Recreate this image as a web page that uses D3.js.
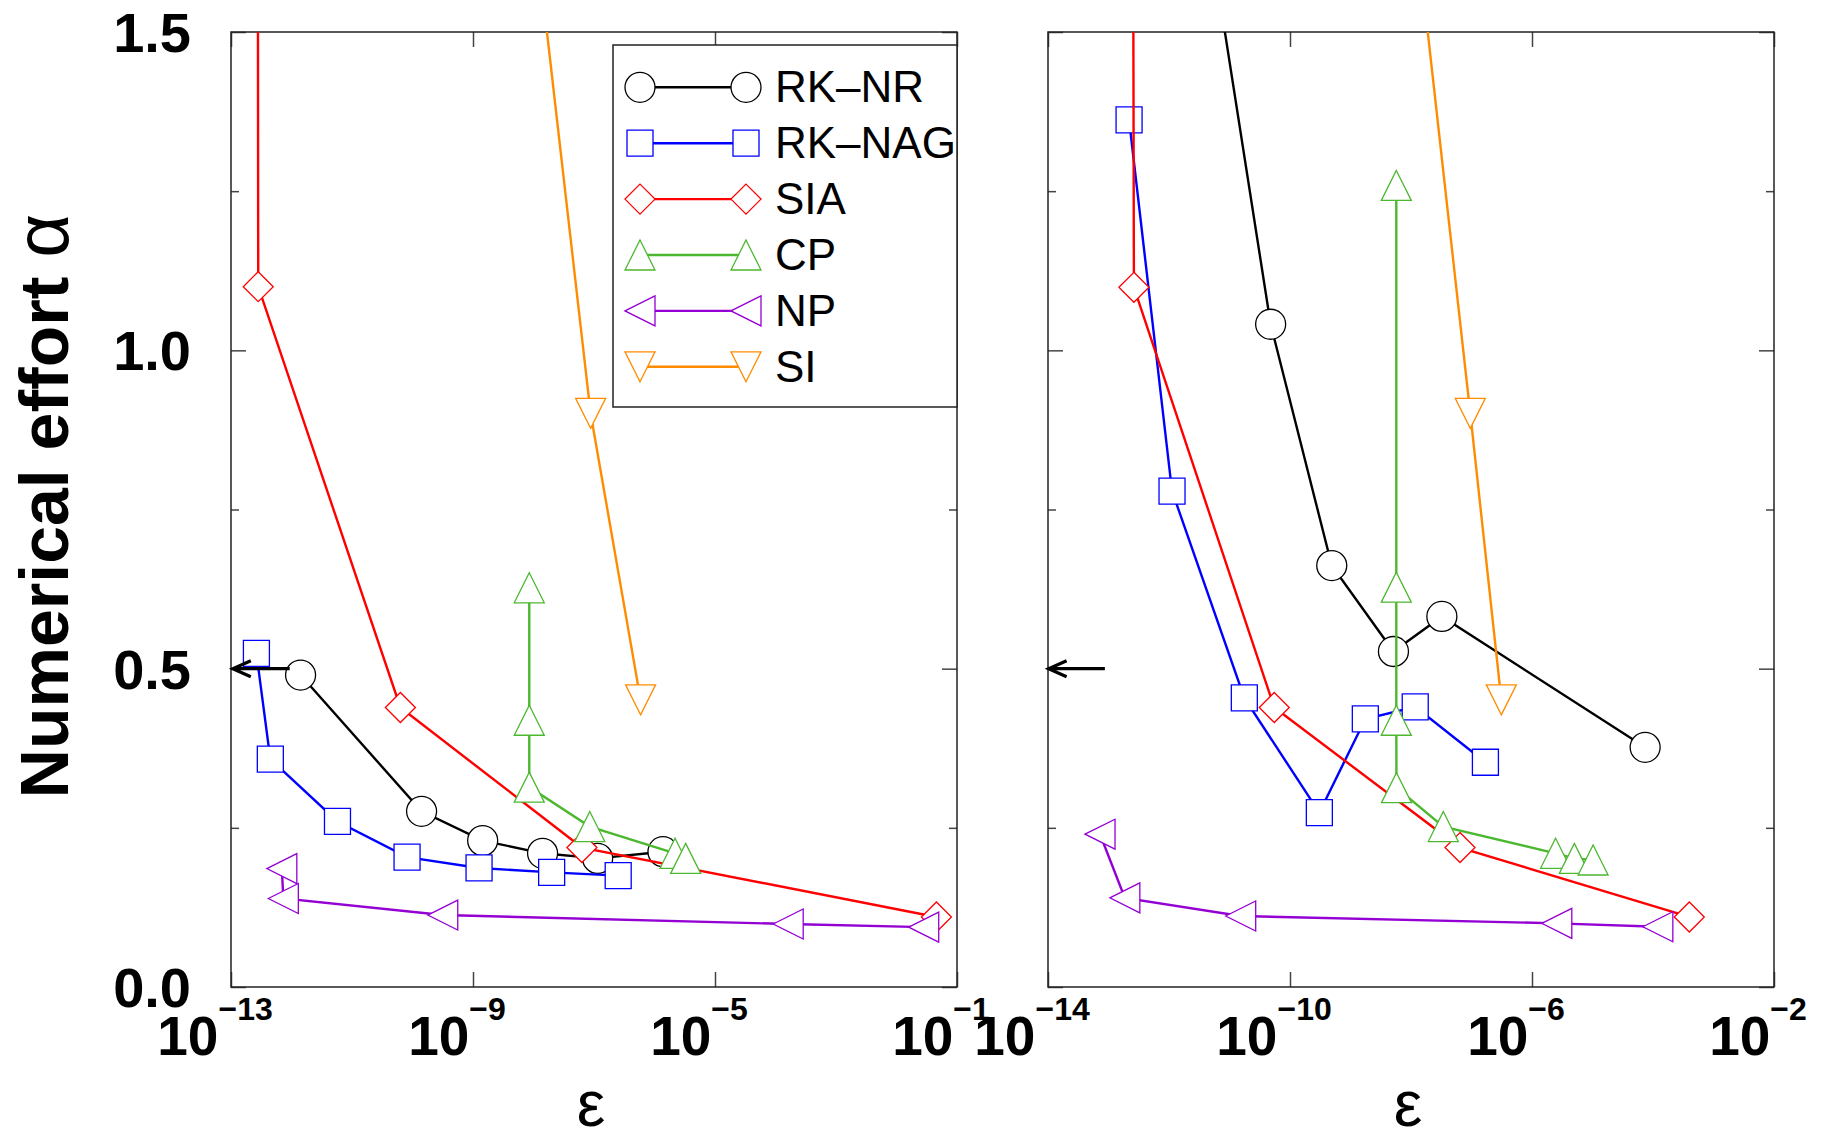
<!DOCTYPE html>
<html>
<head>
<meta charset="utf-8">
<script src="https://cdn.jsdelivr.net/npm/d3@7"></script>
<style>
body { margin: 0; background: #fff; }
text { font-family: "Liberation Sans", Arial, sans-serif; }
</style>
</head>
<body>
<script>
// series (same order in both panels and in the legend)
var seriesNames = ["RK\u2013NR", "RK\u2013NAG", "SIA", "CP", "NP", "SI"];
var seriesColors = ["#000000", "#0000ff", "#ff0000", "#4cb830", "#9400d3", "#ff8c00"];
var seriesSymbols = ["circle", "square", "diamond", "triUp", "triLeft", "triDown"];

// values are log10(eps) and alpha
// left panel
var leftNrExp = [-11.85, -9.85, -8.84, -7.85, -6.94, -5.86];
var leftNrAlpha = [0.49, 0.276, 0.23, 0.21, 0.202, 0.2125];
var leftNagExp = [-12.58, -12.35, -11.24, -10.09, -8.9, -7.7, -6.6];
var leftNagAlpha = [0.524, 0.358, 0.26, 0.204, 0.187, 0.18, 0.175];
var leftSiaExp = [-12.56, -12.55, -10.2, -7.2, -1.34];
var leftSiaAlpha = [2.0, 1.1, 0.439, 0.219, 0.11];
var leftCpExp = [-8.07, -8.07, -8.07, -7.07, -5.66, -5.485];
var leftCpAlpha = [0.627, 0.419, 0.314, 0.252, 0.21, 0.202];
var leftNpExp = [-12.16, -12.135, -9.5, -3.79, -1.55];
var leftNpAlpha = [0.186, 0.139, 0.113, 0.099, 0.094];
var leftSiExp = [-8.38, -7.056, -6.23];
var leftSiAlpha = [2.0, 0.901, 0.451];

// right panel
var rightNrExp = [-11.9, -10.32, -9.31, -8.29, -7.49, -4.13];
var rightNrAlpha = [2.0, 1.041, 0.662, 0.527, 0.582, 0.3765];
var rightNagExp = [-12.66, -11.95, -10.755, -9.515, -8.755, -7.93, -6.77];
var rightNagAlpha = [1.362, 0.779, 0.454, 0.274, 0.421, 0.44, 0.353];
var rightSiaExp = [-12.6, -12.58, -10.26, -7.19, -3.4];
var rightSiaAlpha = [2.0, 1.099, 0.439, 0.219, 0.11];
var rightCpExp = [-8.243, -8.243, -8.243, -8.24, -7.466, -5.61, -5.3, -4.99];
var rightCpAlpha = [1.259, 0.628, 0.419, 0.313, 0.252, 0.21, 0.202, 0.1995];
var rightNpExp = [-13.14, -12.73, -10.815, -5.59, -3.92];
var rightNpAlpha = [0.24, 0.14, 0.1115, 0.1, 0.0947];
var rightSiExp = [-8.31, -7.02, -6.507];
var rightSiAlpha = [2.0, 0.901, 0.451];

// arrows at alpha = 0.5
var arrowAlpha = 0.5;
var leftArrowExp = [-12.03, -12.97];
var rightArrowExp = [-13.06, -13.99];

var leftTickExp = [-13, -9, -5, -1];
var rightTickExp = [-14, -10, -6, -2];
var yMajorTicks = [0, 0.5, 1.0, 1.5];
var yMinorTicks = [0.25, 0.75, 1.25];

var svgWidth = 1825, svgHeight = 1139;
var plotTop = 32, plotBottom = 987;

var svg = d3.select("body").append("svg")
    .attr("width", svgWidth).attr("height", svgHeight);

var y = d3.scaleLinear().domain([0, 1.5]).range([plotBottom, plotTop]);

var symbolPath = {
    circle: "M15,0A15,15 0 1,1 -15,0A15,15 0 1,1 15,0Z",
    square: "M-13,-13H13V13H-13Z",
    diamond: "M0,-15L15,0L0,15L-15,0Z",
    triUp: "M0,-15L15,15L-15,15Z",
    triDown: "M0,15L15,-15L-15,-15Z",
    triLeft: "M-15,0L15,-15L15,15Z"
};

function makeSeries(exps, alphas) {
    return exps.map(function(e, i) { return {eps: Math.pow(10, e), alpha: alphas[i]}; });
}

var panels = [
    {
        x0: 231, x1: 957, domain: [1e-13, 1e-1], ticks: leftTickExp, showY: true,
        arrow: leftArrowExp,
        series: [
            makeSeries(leftNrExp, leftNrAlpha), makeSeries(leftNagExp, leftNagAlpha),
            makeSeries(leftSiaExp, leftSiaAlpha), makeSeries(leftCpExp, leftCpAlpha),
            makeSeries(leftNpExp, leftNpAlpha), makeSeries(leftSiExp, leftSiAlpha)
        ]
    },
    {
        x0: 1048, x1: 1774, domain: [1e-14, 1e-2], ticks: rightTickExp, showY: false,
        arrow: rightArrowExp,
        series: [
            makeSeries(rightNrExp, rightNrAlpha), makeSeries(rightNagExp, rightNagAlpha),
            makeSeries(rightSiaExp, rightSiaAlpha), makeSeries(rightCpExp, rightCpAlpha),
            makeSeries(rightNpExp, rightNpAlpha), makeSeries(rightSiExp, rightSiAlpha)
        ]
    }
];

panels.forEach(function(p, pi) {
    var x = d3.scaleLog().domain(p.domain).range([p.x0, p.x1]);
    var tickVals = p.ticks.map(function(e) { return Math.pow(10, e); });

    var clipId = "clip" + pi;
    svg.append("clipPath").attr("id", clipId)
        .append("rect")
        .attr("x", p.x0).attr("y", plotTop)
        .attr("width", p.x1 - p.x0).attr("height", plotBottom - plotTop);

    // ticks (inward, on all four sides)
    var axes = svg.append("g").attr("class", "axes");
    axes.append("g").attr("transform", "translate(0," + plotBottom + ")")
        .call(d3.axisBottom(x).tickValues(tickVals).tickSize(-15).tickFormat(""));
    axes.append("g").attr("transform", "translate(0," + plotTop + ")")
        .call(d3.axisTop(x).tickValues(tickVals).tickSize(-15).tickFormat(""));
    axes.append("g").attr("transform", "translate(" + p.x0 + ",0)")
        .call(d3.axisLeft(y).tickValues(yMajorTicks).tickSize(-15).tickFormat(""));
    axes.append("g").attr("transform", "translate(" + p.x0 + ",0)")
        .call(d3.axisLeft(y).tickValues(yMinorTicks).tickSize(-8).tickFormat(""));
    axes.append("g").attr("transform", "translate(" + p.x1 + ",0)")
        .call(d3.axisRight(y).tickValues(yMajorTicks).tickSize(-15).tickFormat(""));
    axes.append("g").attr("transform", "translate(" + p.x1 + ",0)")
        .call(d3.axisRight(y).tickValues(yMinorTicks).tickSize(-8).tickFormat(""));
    axes.selectAll(".domain").remove();
    axes.selectAll(".tick line").attr("stroke", "#444").attr("stroke-width", 1.5);

    svg.append("rect")
        .attr("x", p.x0).attr("y", plotTop)
        .attr("width", p.x1 - p.x0).attr("height", plotBottom - plotTop)
        .attr("fill", "none").attr("stroke", "#222").attr("stroke-width", 1.5);

    // x tick labels 10^n
    p.ticks.forEach(function(e) {
        var t = svg.append("text")
            .attr("x", x(Math.pow(10, e)) - 16)
            .attr("y", 1055)
            .attr("text-anchor", "middle")
            .attr("font-weight", "bold")
            .attr("font-size", 55);
        t.append("tspan").text("10");
        t.append("tspan").attr("font-size", 32).attr("dy", -35).text("\u2212" + Math.abs(e));
    });

    if (p.showY) {
        yMajorTicks.forEach(function(v) {
            svg.append("text")
                .attr("x", 191).attr("y", y(v) + 20)
                .attr("text-anchor", "end")
                .attr("font-weight", "bold")
                .attr("font-size", 56)
                .text(v.toFixed(1));
        });
    }

    // x title
    svg.append("text")
        .attr("x", (p.x0 + p.x1) / 2 - 3).attr("y", 1126)
        .attr("text-anchor", "middle")
        .attr("font-family", "'Liberation Serif', serif")
        .attr("font-size", 64)
        .text("\u03b5");

    var plot = svg.append("g").attr("clip-path", "url(#" + clipId + ")");

    var line = d3.line()
        .x(function(d) { return x(d.eps); })
        .y(function(d) { return y(d.alpha); });

    p.series.forEach(function(s, si) {
        plot.append("path")
            .datum(s)
            .attr("d", line)
            .attr("fill", "none")
            .attr("stroke", seriesColors[si])
            .attr("stroke-width", 2.4);
        plot.selectAll(".m" + si)
            .data(s)
            .enter()
            .append("path")
            .attr("class", "m" + si)
            .attr("transform", function(d) { return "translate(" + x(d.eps) + "," + y(d.alpha) + ")"; })
            .attr("d", symbolPath[seriesSymbols[si]])
            .attr("fill", "#fff")
            .attr("stroke", seriesColors[si])
            .attr("stroke-width", 1.3);
    });

    // arrow
    var ax0 = x(Math.pow(10, p.arrow[0])), ax1 = x(Math.pow(10, p.arrow[1])), ay = y(arrowAlpha);
    svg.append("path")
        .attr("d", "M" + ax0 + "," + ay + "L" + ax1 + "," + ay +
            "M" + (ax1 + 18) + "," + (ay - 8) + "L" + ax1 + "," + ay + "L" + (ax1 + 18) + "," + (ay + 8))
        .attr("fill", "none")
        .attr("stroke", "#000")
        .attr("stroke-width", 3.2);
});

// legend (left panel)
var legX = 613, legY = 45, legW = 344, legH = 362;
var legend = svg.append("g");
legend.append("rect")
    .attr("x", legX).attr("y", legY).attr("width", legW).attr("height", legH)
    .attr("fill", "#fff").attr("stroke", "#222").attr("stroke-width", 1.5);

seriesNames.forEach(function(name, i) {
    var ry = 87.3 + i * 55.9;
    legend.append("line")
        .attr("x1", 640).attr("x2", 746).attr("y1", ry).attr("y2", ry)
        .attr("stroke", seriesColors[i]).attr("stroke-width", 2.4);
    [640, 746].forEach(function(mx) {
        legend.append("path")
            .attr("transform", "translate(" + mx + "," + ry + ")")
            .attr("d", symbolPath[seriesSymbols[i]])
            .attr("fill", "#fff")
            .attr("stroke", seriesColors[i])
            .attr("stroke-width", 1.3);
    });
    legend.append("text")
        .attr("x", 775).attr("y", ry + 15)
        .attr("font-size", 44)
        .text(name);
});

// y title
var yTitle = svg.append("text")
    .attr("transform", "translate(68,506) rotate(-90)")
    .attr("text-anchor", "middle")
    .attr("font-weight", "bold")
    .attr("font-size", 68);
yTitle.append("tspan").text("Numerical effort ");
yTitle.append("tspan").attr("font-weight", "normal").attr("font-size", 76).text("\u03b1");
</script>
</body>
</html>
